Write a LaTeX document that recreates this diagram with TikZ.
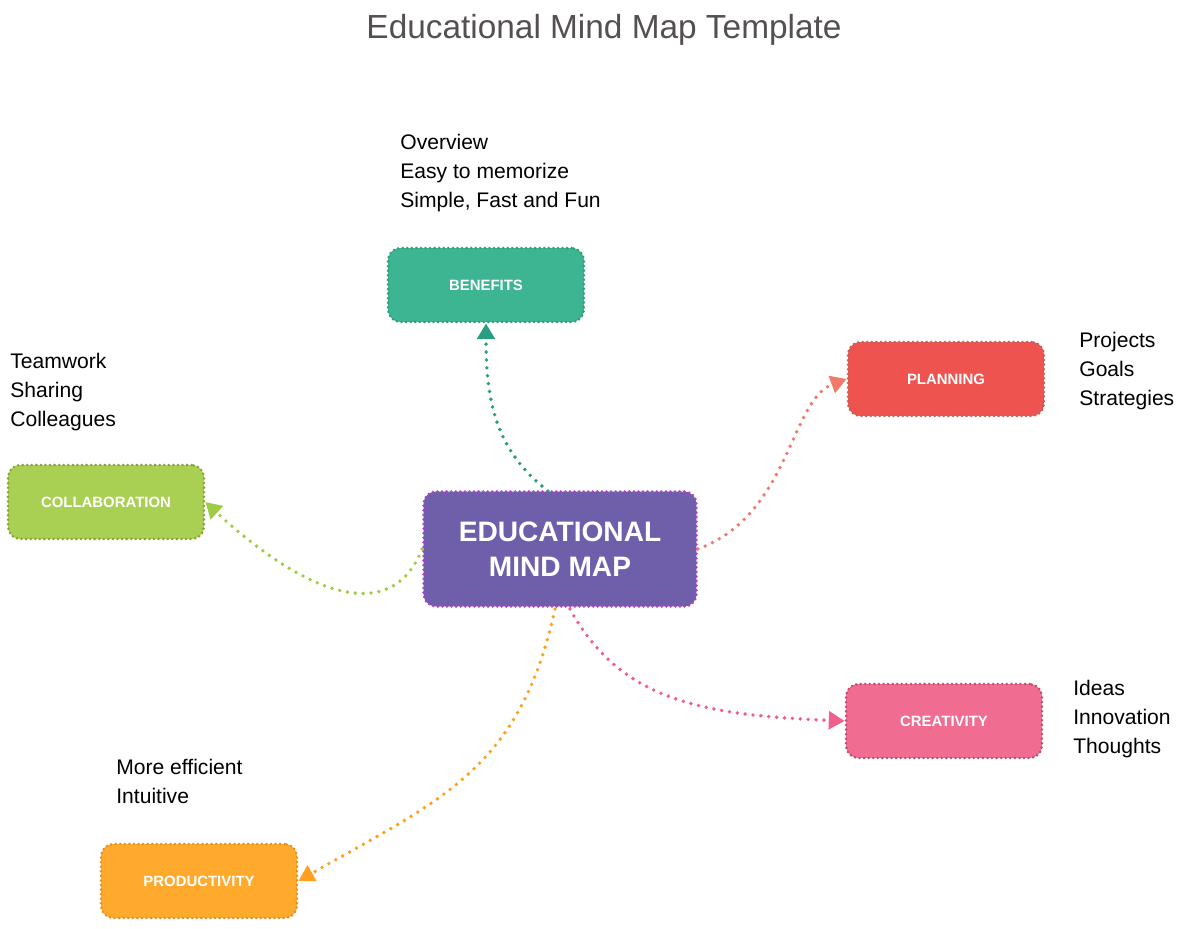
\documentclass[tikz,border=0pt]{standalone}
\usepackage{fontspec}
\setmainfont{Liberation Sans}
\usetikzlibrary{arrows.meta}
\definecolor{tealfill}{HTML}{3DB592}\definecolor{tealline}{HTML}{2A9E80}
\definecolor{redfill}{HTML}{EF5350}\definecolor{redline}{HTML}{F07A6A}
\definecolor{greenfill}{HTML}{A9D052}\definecolor{greenline}{HTML}{A0CC45}
\definecolor{purplefill}{HTML}{6F5FAA}\definecolor{purpleline}{HTML}{B040C8}
\definecolor{pinkfill}{HTML}{F06C91}\definecolor{pinkline}{HTML}{F0608A}
\definecolor{orangefill}{HTML}{FFAA2C}\definecolor{orangeline}{HTML}{FFA020}
\definecolor{titlegray}{HTML}{555050}
\tikzset{box/.style = {rounded corners=7pt, minimum width=3.92cm, minimum height=1.48cm,
                       text=white, font=\bfseries\fontsize{8.5}{10}\selectfont, line width=1.6pt,
                       dash pattern=on 0pt off 2.6pt, line cap=round, align=center},
         note/.style = {align=left, anchor=north west, inner sep=0pt,
                       font=\fontsize{12}{16.4}\selectfont},
         link/.style = {line width=2.2pt, dash pattern=on 0pt off 4.5pt, line cap=round,
                       -{Triangle[length=9pt,width=10pt,line cap=butt]}}}
\begin{document}
\begin{tikzpicture}[x=0.02cm, y=-0.02cm]
    \useasboundingbox (0,0) rectangle (1200,929);
    \node[font=\fontsize{19}{22}\selectfont, text=titlegray] (title) at (604,30) {Educational Mind Map Template};
    % central topic
    \node[box, fill=purplefill, draw=purpleline, minimum width=5.46cm, minimum height=2.3cm,
          font=\bfseries\fontsize{16}{20}\selectfont] (c) at (560,549) {EDUCATIONAL\\MIND MAP};
    % branches
    \node[box, fill=tealfill, draw=tealline] (ben) at (486,285) {BENEFITS};
    \node[box, fill=redfill, draw=redline!80!black] (pla) at (946,379) {PLANNING};
    \node[box, fill=greenfill, draw=greenline!80!black] (col) at (106,502) {COLLABORATION};
    \node[box, fill=pinkfill, draw=pinkline!80!black] (cre) at (944,721) {CREATIVITY};
    \node[box, fill=orangefill, draw=orangeline!90!black] (pro) at (199,881) {PRODUCTIVITY};
    % notes
    \node[note] (benn) at (400,134) {Overview\\Easy to memorize\\Simple, Fast and Fun};
    \node[note] (plan) at (1079,332) {Projects\\Goals\\Strategies};
    \node[note] (coln) at (10,353) {Teamwork\\Sharing\\Colleagues};
    \node[note] (cren) at (1073,680) {Ideas\\Innovation\\Thoughts};
    \node[note] (pron) at (116,759) {More efficient\\Intuitive};
    % links
    \draw[link, tealline] (548,491) .. controls (495,450) and (486,400) .. (ben.south);
    \draw[link, redline] (c.east) .. controls (790,515) and (790,400) .. (pla.west);
    \draw[link, greenline] (c.west) .. controls (390,630) and (300,590) .. (col.east);
    \draw[link, pinkline] (570,609) .. controls (620,700) and (700,715) .. (cre.west);
    \draw[link, orangeline] (555,609) .. controls (520,770) and (440,800) .. (pro.east);
\end{tikzpicture}
\end{document}
